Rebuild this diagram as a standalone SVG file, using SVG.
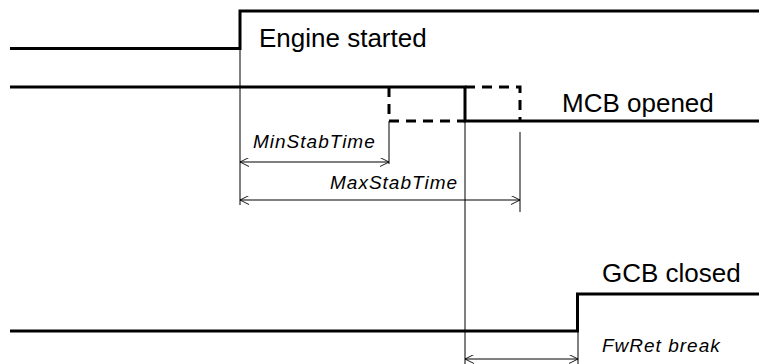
<svg xmlns="http://www.w3.org/2000/svg" width="759" height="364" viewBox="0 0 759 364">
<defs>
<style>
.sig{fill:none;stroke:#000;stroke-width:3;stroke-linejoin:miter}
.dash{fill:none;stroke:#000;stroke-width:3;stroke-dasharray:10,7}
.thin{fill:none;stroke:#000;stroke-width:1}
.lbl{font-family:"Liberation Sans",Arial,sans-serif;font-size:26px;fill:#000}
.ital{font-family:"Liberation Sans",Arial,sans-serif;font-size:19px;letter-spacing:1px;font-style:italic;fill:#000}
</style>
<marker id="ah" viewBox="0 0 10 10" refX="10" refY="5" markerWidth="9" markerHeight="9" markerUnits="userSpaceOnUse" orient="auto-start-reverse">
<path d="M0,0 L10,5 L0,10" fill="none" stroke="#000" stroke-width="1"/>
</marker>
</defs>
<rect width="759" height="364" fill="#fff"/>
<g id="engine">
<path class="sig" d="M10,48.5 H240 V11 H759"/>
<text class="lbl" x="259" y="47">Engine started</text>
</g>
<g id="mcb">
<path class="sig" d="M10,87 H465 V121 H759"/>
<path class="dash" d="M389,87 V121 H465"/>
<path class="dash" d="M465,87 H520 V121"/>
<text class="lbl" x="562" y="112">MCB opened</text>
</g>
<g id="gcb">
<path class="sig" d="M10,331 H577.5 V294 H759"/>
<text class="lbl" x="602" y="282">GCB closed</text>
</g>
<g id="connectors">
<line class="thin" x1="240" y1="48" x2="240" y2="205"/>
<line class="thin" x1="389" y1="121" x2="389" y2="164"/>
<line class="thin" x1="520" y1="132" x2="520" y2="212"/>
<line class="thin" x1="465" y1="121" x2="465" y2="364"/>
<line class="thin" x1="578" y1="331" x2="578" y2="364"/>
<line class="thin" x1="240" y1="162" x2="389" y2="162" marker-start="url(#ah)" marker-end="url(#ah)"/>
<line class="thin" x1="240" y1="200" x2="520" y2="200" marker-start="url(#ah)" marker-end="url(#ah)"/>
<line class="thin" x1="465" y1="359" x2="578" y2="359" marker-start="url(#ah)" marker-end="url(#ah)"/>
</g>
<g id="labels">
<text class="ital" x="253" y="148">MinStabTime</text>
<text class="ital" x="330" y="189">MaxStabTime</text>
<text class="ital" x="602" y="352">FwRet break</text>
</g>
</svg>
